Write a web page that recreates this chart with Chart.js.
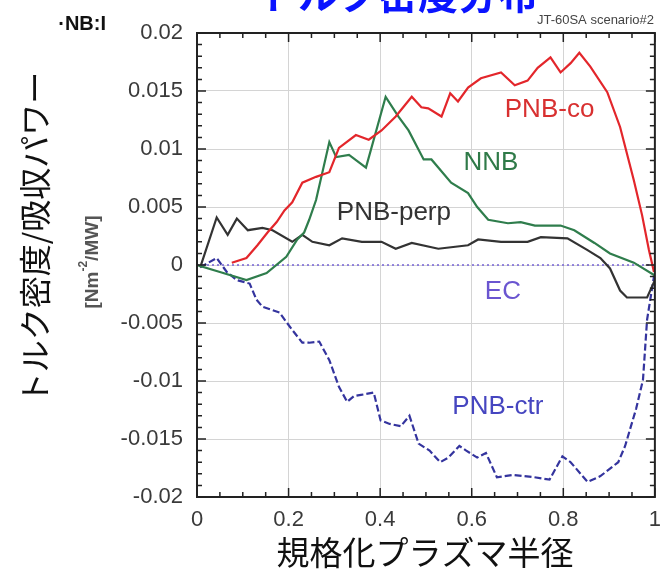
<!DOCTYPE html>
<html>
<head>
<meta charset="utf-8">
<script src="https://cdn.jsdelivr.net/npm/chart.js@4/dist/chart.umd.min.js"></script>
<style>
  html, body { margin: 0; padding: 0; background: #fff; }
  #wrap { width: 671px; height: 582px; position: relative; }
</style>
</head>
<body>
<div id="wrap"><canvas id="torqueChart"></canvas></div>
<script>
// ---------- data ----------
const coX = [0.076, 0.108, 0.132, 0.154, 0.174, 0.191, 0.208, 0.230, 0.260, 0.289, 0.310, 0.347, 0.375, 0.403, 0.434, 0.469, 0.490, 0.505, 0.534, 0.553, 0.570, 0.592, 0.620, 0.664, 0.694, 0.722, 0.744, 0.772, 0.794, 0.816, 0.835, 0.859, 0.896, 0.924, 0.954, 0.972, 0.987, 0.998];
const coY = [0.0002, 0.0006, 0.0017, 0.0028, 0.0037, 0.0047, 0.0054, 0.0071, 0.0076, 0.0080, 0.0101, 0.0112, 0.0108, 0.0116, 0.0128, 0.0145, 0.0136, 0.0135, 0.0128, 0.0148, 0.0141, 0.0153, 0.0161, 0.0166, 0.0155, 0.0159, 0.0170, 0.0179, 0.0166, 0.0174, 0.0183, 0.0171, 0.0149, 0.0119, 0.0073, 0.0043, 0.0013, -0.0006];

const nnbX = [0.0, 0.05, 0.108, 0.152, 0.195, 0.219, 0.234, 0.245, 0.260, 0.289, 0.304, 0.332, 0.369, 0.412, 0.440, 0.462, 0.495, 0.512, 0.555, 0.592, 0.612, 0.636, 0.679, 0.707, 0.738, 0.794, 0.824, 0.868, 0.902, 0.954, 1.0];
const nnbY = [0.0, -0.0006, -0.0013, -0.0007, 0.0007, 0.0022, 0.0028, 0.0039, 0.0056, 0.0106, 0.0093, 0.0095, 0.0084, 0.0145, 0.0128, 0.0116, 0.0091, 0.0091, 0.0071, 0.0062, 0.0050, 0.0039, 0.0036, 0.0037, 0.0034, 0.0034, 0.0030, 0.0019, 0.0010, 0.0002, -0.0009];

const perpX = [0.007, 0.043, 0.067, 0.087, 0.111, 0.143, 0.165, 0.208, 0.230, 0.252, 0.289, 0.317, 0.360, 0.403, 0.434, 0.469, 0.527, 0.592, 0.614, 0.664, 0.722, 0.751, 0.809, 0.852, 0.881, 0.902, 0.924, 0.939, 0.983, 1.0];
const perpY = [-0.0002, 0.0041, 0.0026, 0.0040, 0.0030, 0.0032, 0.0030, 0.0020, 0.0026, 0.0020, 0.0017, 0.0023, 0.0020, 0.0020, 0.0014, 0.0019, 0.0014, 0.0017, 0.0022, 0.0020, 0.0020, 0.0024, 0.0023, 0.0013, 0.0006, -0.0003, -0.0022, -0.0028, -0.0028, -0.0013];

const ecX = [0.0, 0.25, 0.5, 0.75, 1.0];
const ecY = [0.0, 0.0, 0.0, 0.0, 0.0];

const ctrX = [0.007, 0.043, 0.065, 0.087, 0.115, 0.130, 0.143, 0.180, 0.208, 0.230, 0.245, 0.267, 0.289, 0.310, 0.328, 0.343, 0.358, 0.386, 0.401, 0.421, 0.445, 0.464, 0.484, 0.508, 0.531, 0.549, 0.573, 0.588, 0.612, 0.631, 0.655, 0.690, 0.737, 0.770, 0.798, 0.816, 0.853, 0.881, 0.920, 0.935, 0.959, 0.974, 0.983, 0.998];
const ctrY = [-0.0002, 0.0006, -0.0006, -0.0013, -0.0016, -0.0030, -0.0036, -0.0041, -0.0056, -0.0067, -0.0067, -0.0066, -0.0082, -0.0105, -0.0118, -0.0113, -0.0112, -0.0110, -0.0134, -0.0137, -0.0139, -0.0130, -0.0154, -0.0160, -0.0170, -0.0166, -0.0156, -0.0160, -0.0166, -0.0162, -0.0183, -0.0181, -0.0183, -0.0185, -0.0165, -0.0170, -0.0187, -0.0182, -0.0170, -0.0156, -0.0124, -0.0099, -0.0047, -0.0010];

const xTicks = [0, 0.2, 0.4, 0.6, 0.8, 1];
const yTicks = [-0.02, -0.015, -0.01, -0.005, 0, 0.005, 0.01, 0.015, 0.02];

// series names and where the inline labels sit (data units)
const seriesNames = ["PNB-co", "NNB", "PNB-perp", "EC", "PNB-ctr"];
const labelX = [0.77, 0.642, 0.43, 0.668, 0.657];
const labelY = [0.0134, 0.0088, 0.0045, -0.0023, -0.0122];
const seriesColors = ["#e3262b", "#2f7d4c", "#333333", "#7563d8", "#34349e"];
const labelColors = ["#d83030", "#2f7a48", "#333333", "#6a55d0", "#4646c0"];

function toPoints(xs, ys) {
    return xs.map((x, i) => ({ x: x, y: ys[i] }));
}

// ---------- extra drawing: frame, inward ticks, labels, titles ----------
const decorPlugin = {
    id: 'decor',
    afterDraw(chart) {
        const ctx = chart.ctx;
        const a = chart.chartArea;
        const xs = chart.scales.x, ys = chart.scales.y;
        ctx.save();

        // frame
        ctx.strokeStyle = '#222';
        ctx.lineWidth = 2;
        ctx.strokeRect(a.left, a.top, a.right - a.left, a.bottom - a.top);

        // inward ticks on all four sides
        ctx.lineWidth = 1.5;
        ctx.beginPath();
        for (let i = 0; i <= 20; i++) {
            const px = xs.getPixelForValue(i * 0.05);
            const len = (i % 4 === 0) ? 9 : 5;
            ctx.moveTo(px, a.bottom); ctx.lineTo(px, a.bottom - len);
            ctx.moveTo(px, a.top); ctx.lineTo(px, a.top + len);
        }
        for (let i = 0; i <= 40; i++) {
            const py = ys.getPixelForValue(-0.02 + i * 0.001);
            const len = (i % 5 === 0) ? 9 : 5;
            ctx.moveTo(a.left, py); ctx.lineTo(a.left + len, py);
            ctx.moveTo(a.right, py); ctx.lineTo(a.right - len, py);
        }
        ctx.stroke();

        // inline series labels
        ctx.font = '26px "Liberation Sans", Arial, sans-serif';
        ctx.textAlign = 'center';
        ctx.textBaseline = 'middle';
        seriesNames.forEach((name, i) => {
            ctx.fillStyle = labelColors[i];
            ctx.fillText(name, xs.getPixelForValue(labelX[i]), ys.getPixelForValue(labelY[i]));
        });

        // cut-off title at the very top
        ctx.fillStyle = '#0a14ff';
        ctx.font = 'bold 40px "Noto Sans CJK JP", sans-serif';
        ctx.textBaseline = 'alphabetic';
        ctx.fillText('トルク密度分布', 398, 9);

        // fragment of a neighbouring label
        ctx.fillStyle = '#111';
        ctx.font = 'bold 20px "Liberation Sans", Arial, sans-serif';
        ctx.textAlign = 'right';
        ctx.fillText('·NB:I', 106, 30);

        // scenario note
        ctx.fillStyle = '#444';
        ctx.font = '13px "Liberation Sans", Arial, sans-serif';
        ctx.fillText('JT-60SA scenario#2', 654, 24);

        // x axis title
        ctx.fillStyle = '#111';
        ctx.textAlign = 'center';
        ctx.font = '33px "Noto Sans CJK JP", sans-serif';
        ctx.textBaseline = 'middle';
        ctx.fillText('規格化プラズマ半径', 425, 552);

        // y axis titles (rotated)
        ctx.save();
        ctx.translate(35, 238);
        ctx.rotate(-Math.PI / 2);
        ctx.font = '32px "Noto Sans CJK JP", sans-serif';
        ctx.fillText('トルク密度/吸収パワー', 0, 0);
        ctx.restore();

        ctx.save();
        ctx.translate(93, 262);
        ctx.rotate(-Math.PI / 2);
        ctx.fillStyle = '#555';
        ctx.textAlign = 'left';
        const f1 = 'bold 19px "Liberation Sans", Arial, sans-serif';
        const f2 = 'bold 12px "Liberation Sans", Arial, sans-serif';
        const p1 = '[Nm', p2 = '-2', p3 = '/MW]';
        ctx.font = f1; const w1 = ctx.measureText(p1).width, w3 = ctx.measureText(p3).width;
        ctx.font = f2; const w2 = ctx.measureText(p2).width;
        let sx = -(w1 + w2 + w3) / 2;
        ctx.font = f1; ctx.fillText(p1, sx, 0); sx += w1;
        ctx.font = f2; ctx.fillText(p2, sx, -9); sx += w2;
        ctx.font = f1; ctx.fillText(p3, sx, 0);
        ctx.restore();

        ctx.restore();
    }
};

function createChart() {
    const ctx = document.getElementById('torqueChart').getContext('2d');
    const series = [
        { pts: toPoints(coX, coY), dash: [], width: 2.2 },
        { pts: toPoints(nnbX, nnbY), dash: [], width: 2.2 },
        { pts: toPoints(perpX, perpY), dash: [], width: 2.2 },
        { pts: toPoints(ecX, ecY), dash: [2, 3], width: 1.5 },
        { pts: toPoints(ctrX, ctrY), dash: [7, 3], width: 2.2 }
    ];
    return new Chart(ctx, {
        type: 'line',
        data: {
            datasets: series.map((s, i) => ({
                label: seriesNames[i],
                data: s.pts,
                borderColor: seriesColors[i],
                borderWidth: s.width,
                borderDash: s.dash,
                pointRadius: 0,
                tension: 0,
                fill: false
            }))
        },
        options: {
            responsive: true,
            maintainAspectRatio: false,
            animation: false,
            layout: { padding: { left: 0, right: 13, top: 33, bottom: 0 } },
            plugins: { legend: { display: false }, tooltip: { enabled: false } },
            scales: {
                x: {
                    type: 'linear', min: 0, max: 1,
                    afterBuildTicks: (s) => { s.ticks = xTicks.map(v => ({ value: v })); },
                    afterFit: (s) => { s.height = 85; },
                    ticks: {
                        padding: 10, color: '#3a3a3a',
                        font: { size: 22, family: '"Liberation Sans", Arial, sans-serif' },
                        callback: (v) => String(parseFloat(v.toFixed(2)))
                    },
                    grid: { color: '#d4d4d4', lineWidth: 1, drawTicks: false },
                    border: { display: false }
                },
                y: {
                    type: 'linear', min: -0.02, max: 0.02,
                    afterBuildTicks: (s) => { s.ticks = yTicks.map(v => ({ value: v })); },
                    afterFit: (s) => { s.width = 197; },
                    ticks: {
                        padding: 14, color: '#3a3a3a',
                        font: { size: 22, family: '"Liberation Sans", Arial, sans-serif' },
                        callback: (v) => String(parseFloat(v.toFixed(3)))
                    },
                    grid: { color: '#d4d4d4', lineWidth: 1, drawTicks: false },
                    border: { display: false }
                }
            }
        },
        plugins: [decorPlugin]
    });
}

window.addEventListener('DOMContentLoaded', () => {
    createChart();
});
</script>
</body>
</html>
